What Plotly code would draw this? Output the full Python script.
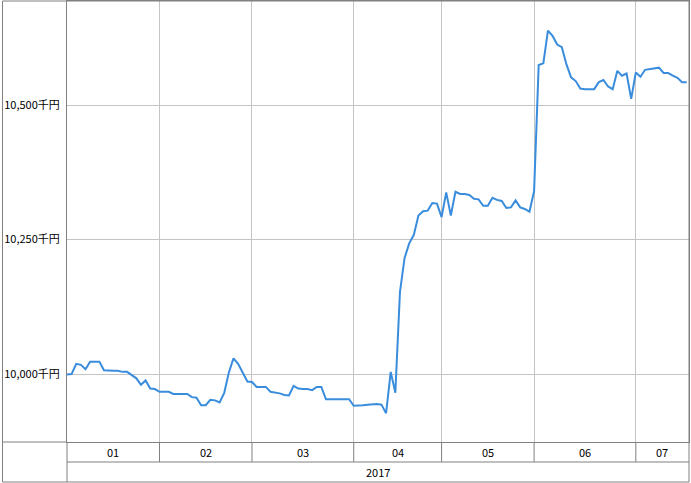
import plotly.graph_objects as go

# ---- data ----
month_labels = ["01", "02", "03", "04", "05", "06", "07"]
year_label = "2017"

jan = [9999, 10000, 10019, 10017, 10009, 10023, 10023, 10023, 10007, 10006,
       10006, 10006, 10004, 10004, 9998, 9992, 9980, 9988, 9973, 9972]
feb = [9967, 9967, 9967, 9963, 9963, 9963, 9963, 9957, 9956, 9942,
       9942, 9952, 9951, 9947, 9965, 10003, 10029, 10019, 10001, 9986]
mar = [9985, 9976, 9976, 9976, 9967, 9966, 9964, 9961, 9960, 9978, 9973,
       9972, 9972, 9970, 9976, 9976, 9953, 9953, 9953, 9953, 9953, 9953]
apr = [9941, 9941, 9942, 9943, 9944, 9944, 9943, 9927, 10004, 9965,
       10153, 10216, 10243, 10259, 10295, 10303, 10304, 10318, 10317]
may = [10292, 10338, 10295, 10339, 10335, 10335, 10333, 10326, 10325, 10313,
       10313, 10328, 10324, 10322, 10309, 10310, 10323, 10310, 10307, 10302]
jun = [10340, 10575, 10578, 10639, 10629, 10613, 10608, 10576, 10552, 10545, 10531,
       10530, 10530, 10530, 10543, 10547, 10535, 10530, 10564, 10555, 10559, 10512]
jul = [10561, 10553, 10566, 10567, 10568, 10570, 10560, 10560, 10555, 10551,
       10543, 10543]

y_ticks = [10000, 10250, 10500]
y_tick_text = ["10,000千円", "10,250千円", "10,500千円"]
y_range = [9873.5, 10694]

months = [jan, feb, mar, apr, may, jun, jul]
values = [v for m in months for v in m]
trading_day = list(range(len(values)))

month_starts = []
s = 0
for m in months:
    month_starts.append(s)
    s += len(m)
x_end = len(values) - 0.5
month_ends = month_starts[1:] + [x_end]

FONT = "Noto Sans CJK JP, Noto Sans, sans-serif"
BORDER = "#808080"
GRID = "#c4c4c4"

fig = go.Figure()
fig.add_trace(go.Scatter(
    x=trading_day, y=values, mode="lines",
    line=dict(color="#3a8ddc", width=2),
    hoverinfo="skip", showlegend=False,
))

W, H = 691, 483
ml, mr, mt, mb = 67, 2, 1, 41
pw, ph = W - ml - mr, H - mt - mb
row1 = -20 / ph      # bottom of the month row
row2 = -40 / ph      # bottom of the year row
left_edge = -(ml - 2.5) / pw

shapes = [
    # outer frame
    dict(type="rect", xref="paper", yref="paper", x0=left_edge, x1=1, y0=row2, y1=1,
         line=dict(color=BORDER, width=1), layer="above"),
    # left column separator below plot
    dict(type="line", xref="paper", yref="paper", x0=left_edge, x1=0, y0=0, y1=0,
         line=dict(color=BORDER, width=1)),
    dict(type="line", xref="paper", yref="paper", x0=0, x1=0, y0=row2, y1=0,
         line=dict(color=BORDER, width=1)),
    # bottom of month row
    dict(type="line", xref="paper", yref="paper", x0=0, x1=1, y0=row1, y1=row1,
         line=dict(color=BORDER, width=1)),
]
for b in month_starts[1:]:
    shapes.append(dict(type="line", xref="x", yref="paper", x0=b, x1=b, y0=row1, y1=0,
                       line=dict(color=BORDER, width=1)))

annotations = []
for lab, a, b in zip(month_labels, month_starts, month_ends):
    annotations.append(dict(x=(a + b) / 2, y=row1 / 2, xref="x", yref="paper",
                            text=lab, showarrow=False, xanchor="center", yanchor="middle",
                            font=dict(family=FONT, size=11, color="#000000")))
annotations.append(dict(x=0.5, y=(row1 + row2) / 2, xref="paper", yref="paper",
                        text=year_label, showarrow=False, xanchor="center", yanchor="middle",
                        font=dict(family=FONT, size=11, color="#000000")))

fig.update_layout(
    width=W, height=H,
    margin=dict(l=ml, r=mr, t=mt, b=mb, pad=0),
    paper_bgcolor="white", plot_bgcolor="white",
    font=dict(family=FONT, size=11, color="#000000"),
    xaxis=dict(range=[0, x_end], tickvals=month_starts[1:], showticklabels=False,
               showgrid=True, gridcolor=GRID, gridwidth=1, zeroline=False,
               showline=True, mirror=True, linecolor=BORDER, linewidth=1, ticks=""),
    yaxis=dict(range=y_range, tickvals=y_ticks, ticktext=y_tick_text,
               showgrid=True, gridcolor=GRID, gridwidth=1, zeroline=False,
               showline=True, mirror=True, linecolor=BORDER, linewidth=1, ticks="",
               ticklabelstandoff=4, tickfont=dict(family=FONT, size=11, color="#000000")),
    shapes=shapes,
    annotations=annotations,
    showlegend=False,
)

fig.write_html(
    "out.html",
    config={"displayModeBar": False, "staticPlot": True},
    post_script="document.body.style.margin='0';document.body.style.padding='0';"
                "document.body.style.overflow='hidden';",
)
